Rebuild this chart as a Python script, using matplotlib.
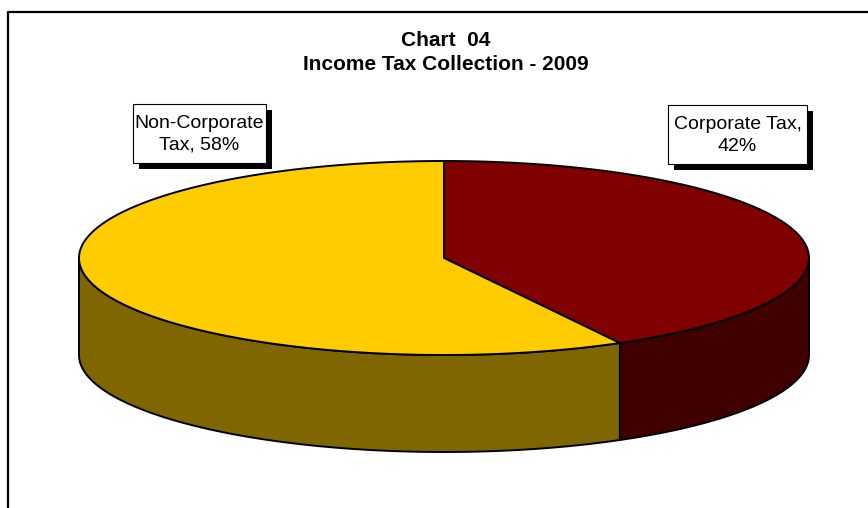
"""
    3D style pie chart - Income Tax Collection 2009
"""
import numpy as np
import matplotlib
matplotlib.use("Agg")
import matplotlib.pyplot as plt
from matplotlib.patches import Polygon, Rectangle

### chart data
categories = ["Corporate Tax", "Non-Corporate Tax"]
shares = [42, 58]
top_colors = ["#800000", "#FFCC00"]
side_colors = ["#400000", "#806600"]
title_lines = ["Chart  04", "Income Tax Collection - 2009"]

### geometry (pixels)
W, H = 868, 508
CX, CY = 444, 258
RX, RY = 365, 97
DEPTH = 97
EDGE = dict(edgecolor="black", linewidth=1.4, joinstyle="round")

plt.rcParams["font.family"] = ["Liberation Sans", "DejaVu Sans"]

fig = plt.figure(figsize=(W / 100, H / 100), dpi=100)
ax = fig.add_axes([0, 0, 1, 1])
ax.set_xlim(0, W)
ax.set_ylim(H, 0)
ax.axis("off")


def rim(t, dy=0):
    t = np.radians(t)
    return np.column_stack([CX + RX * np.cos(t), CY - RY * np.sin(t) + dy])


# slice angles: start at 12 o'clock, go clockwise
total = sum(shares)
spans = []
start = 90.0
for s in shares:
    end = start - 360.0 * s / total
    spans.append((end, start))
    start = end

# side walls (only the front half is visible)
for (t0, t1), col in zip(spans, side_colors):
    lo, hi = max(t0, -180), min(t1, 0)
    if lo >= hi:
        continue
    ts = np.linspace(lo, hi, 120)
    pts = np.vstack([rim(ts), rim(ts[::-1], DEPTH)])
    ax.add_patch(Polygon(pts, closed=True, facecolor=col, **EDGE))

# top faces
for (t0, t1), col in zip(spans, top_colors):
    ts = np.linspace(t1, t0, 200)
    pts = np.vstack([[CX, CY], rim(ts)])
    ax.add_patch(Polygon(pts, closed=True, facecolor=col, **EDGE))

# data labels with drop shadow
label_boxes = [(668, 105, 139, 59), (133, 104, 133, 59)]
for (x, y, w, h), name, s in zip(label_boxes, categories, shares):
    ax.add_patch(Rectangle((x + 6, y + 6), w, h, facecolor="black", edgecolor="none"))
    ax.add_patch(Rectangle((x, y), w, h, facecolor="white", edgecolor="black", linewidth=0.8))
    if name == "Corporate Tax":
        txt = f"{name},\n{s}%"
    else:
        a, b = name.rsplit(" ", 1)
        txt = f"{a}\n{b}, {s}%"
    ax.text(x + w / 2, y + h / 2 + 1, txt, ha="center", va="center",
            fontsize=14, linespacing=1.35)

# title
ax.text(446, 40, title_lines[0], ha="center", va="center", fontsize=15, fontweight="bold")
ax.text(446, 65, title_lines[1], ha="center", va="center", fontsize=15, fontweight="bold")

# chart area frame (clipped at right and bottom)
ax.plot([8, 8, W + 5], [H + 5, 12, 12], color="black", linewidth=1.6, clip_on=False)

fig.savefig("out.png", dpi=100)
